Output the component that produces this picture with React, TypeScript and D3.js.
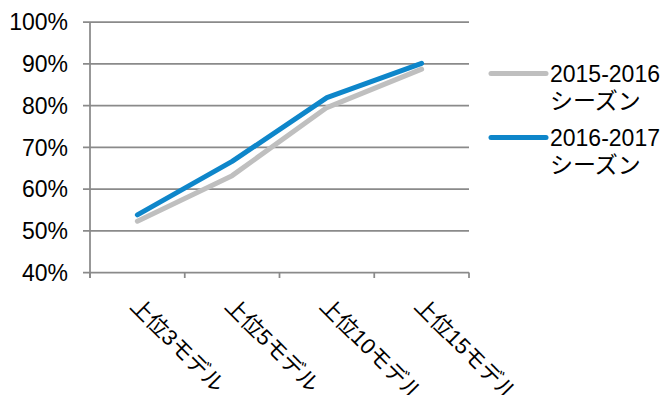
import React from "react";
import * as d3 from "d3";

const categories = ["上位3モデル", "上位5モデル", "上位10モデル", "上位15モデル"];
const series2015 = [0.523, 0.632, 0.795, 0.887];
const series2016 = [0.538, 0.666, 0.819, 0.901];
const yTicks = [0.4, 0.5, 0.6, 0.7, 0.8, 0.9, 1.0];
const seriesNames = ["2015-2016", "2016-2017"];
const seriesSub = "シーズン";

const W = 667;
const H = 395;
const FONT = "'Liberation Sans', Arial, 'Noto Sans CJK JP', sans-serif";
const GRID = "#8a8a8a";
const COLORS = ["#BFBFBF", "#0E86CA"];
const FS = 23;

export default function App() {
  const x = d3.scaleBand<string>().domain(categories).range([90, 469]).padding(0);
  const y = d3.scaleLinear().domain([0.4, 1.0]).range([272.5, 22]);
  const cx = (c: string) => (x(c) as number) + x.bandwidth() / 2;
  const line = d3
    .line<number>()
    .x((_, i) => cx(categories[i]))
    .y((d) => y(d));
  const seriesData = [series2015, series2016];
  const boundaries = [...categories.map((c) => x(c) as number), 469];

  return (
    <svg
      width={W}
      height={H}
      style={{ position: "absolute", left: 0, top: 0, background: "#fff" }}
      fontFamily={FONT}
    >
      {yTicks.map((t) => (
        <g key={t}>
          <line x1={83} x2={469} y1={y(t)} y2={y(t)} stroke={GRID} strokeWidth={1.75} />
          <text x={68} y={y(t)} dy="0.36em" textAnchor="end" fontSize={FS} fill="#000">
            {d3.format(".0%")(t)}
          </text>
        </g>
      ))}
      <line x1={90} x2={90} y1={y(1.0)} y2={278} stroke={GRID} strokeWidth={1.75} />
      {boundaries.map((b, i) => (
        <line key={i} x1={b} x2={b} y1={y(0.4)} y2={278} stroke={GRID} strokeWidth={1.75} />
      ))}
      {seriesData.map((s, i) => (
        <path
          key={i}
          d={line(s) as string}
          fill="none"
          stroke={COLORS[i]}
          strokeWidth={5}
          strokeLinecap="round"
          strokeLinejoin="round"
        />
      ))}
      {categories.map((c) => (
        <text
          key={c}
          transform={`translate(${cx(c) + 4},295) rotate(45)`}
          dy="0.8em"
          textAnchor="start"
          fontSize={22}
          fill="#000"
        >
          {c}
        </text>
      ))}
      {seriesNames.map((n, i) => {
        const base = 82 + i * 64;
        return (
          <g key={n}>
            <line
              x1={491}
              x2={546}
              y1={base - 8.5}
              y2={base - 8.5}
              stroke={COLORS[i]}
              strokeWidth={5}
              strokeLinecap="round"
            />
            <text x={550} y={base} fontSize={FS} fill="#000">
              {n}
            </text>
            <text x={550} y={base + 27} fontSize={FS} fill="#000">
              {seriesSub}
            </text>
          </g>
        );
      })}
    </svg>
  );
}
